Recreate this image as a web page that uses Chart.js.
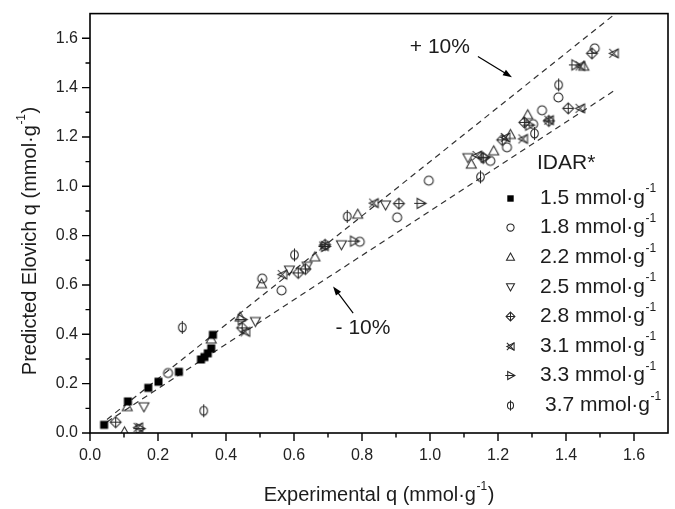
<!DOCTYPE html>
<html><head><meta charset="utf-8">
<script src="https://cdn.jsdelivr.net/npm/chart.js@4.4.1/dist/chart.umd.min.js"></script>
<style>html,body{margin:0;padding:0;background:#fff;}#wrap{width:675px;height:509px;}</style>
</head><body><div id="wrap"><canvas id="c" width="675" height="509"></canvas></div>
<script>
// ---------- data ----------
const seriesLabels = ['1.5 mmol·g⁻¹','1.8 mmol·g⁻¹','2.2 mmol·g⁻¹','2.5 mmol·g⁻¹','2.8 mmol·g⁻¹','3.1 mmol·g⁻¹','3.3 mmol·g⁻¹','3.7 mmol·g⁻¹'];
const legendTitle = 'IDAR*';
const xTickValues = [0.0,0.2,0.4,0.6,0.8,1.0,1.2,1.4,1.6];
const yTickValues = [0.0,0.2,0.4,0.6,0.8,1.0,1.2,1.4,1.6];
const minorTickValues = [0.1,0.3,0.5,0.7,0.9,1.1,1.3,1.5];

const exp15 = [0.04,0.11,0.17,0.20,0.26,0.325,0.335,0.345,0.355,0.36];
const pred15 = [0.035,0.13,0.185,0.21,0.25,0.30,0.31,0.325,0.345,0.40];
const exp18 = [0.228,0.505,0.562,0.792,0.902,0.995,1.176,1.225,1.302,1.328,1.376,1.483];
const pred18 = [0.245,0.628,0.58,0.777,0.876,1.025,1.105,1.16,1.254,1.31,1.362,1.561];
const exp22 = [0.10,0.108,0.355,0.44,0.503,0.66,0.786,1.12,1.186,1.235,1.286,1.451];
const pred22 = [0.005,0.107,0.381,0.47,0.605,0.714,0.887,1.09,1.144,1.21,1.29,1.487];
const exp25 = [0.157,0.485,0.585,0.637,0.738,0.868,1.11];
const pred25 = [0.11,0.456,0.664,0.68,0.767,0.928,1.12];
const exp28 = [0.074,0.446,0.611,0.632,0.69,0.907,1.155,1.211,1.276,1.348,1.405,1.475];
const pred28 = [0.046,0.428,0.651,0.667,0.765,0.932,1.117,1.19,1.261,1.267,1.318,1.541];
const exp31 = [0.14,0.455,0.564,0.686,0.833,1.137,1.22,1.272,1.348,1.44,1.44,1.539];
const pred31 = [0.025,0.412,0.644,0.76,0.934,1.127,1.2,1.194,1.27,1.318,1.49,1.541];
const exp33 = [0.145,0.445,0.69,0.775,0.971,1.16,1.29,1.426];
const pred33 = [0.02,0.462,0.758,0.78,0.933,1.12,1.25,1.494];
const exp37 = [0.27,0.333,0.6,0.755,1.147,1.306,1.377];
const pred37 = [0.43,0.092,0.724,0.88,1.04,1.216,1.413];

const guideX = [0.05,1.54];
const guidePlus = [0.055,1.694];   // +10 %
const guideMinus = [0.045,1.386];  // -10 %

// ---------- styling ----------
const FONT = '"Liberation Sans", Arial, Helvetica, sans-serif';
const INK = '#1c1c1c';
const MK = '#262626';
const markerKinds = ['square','circle','triUp','triDown','diamPlus','xTri','triRight','circV'];

function makeMarker(kind, k){
  const size = Math.ceil(16*k);
  const c = document.createElement('canvas'); c.width = size; c.height = size;
  const g = c.getContext('2d');
  g.translate(Math.floor(size/2)+0.5, Math.floor(size/2)+0.5);
  g.strokeStyle = MK; g.lineWidth = 1.05; g.fillStyle = '#000';
  const P = (pts, close)=>{ g.beginPath(); pts.forEach((p,i)=> i? g.lineTo(p[0]*k,p[1]*k) : g.moveTo(p[0]*k,p[1]*k)); if(close) g.closePath(); g.stroke(); };
  switch(kind){
    case 'square': g.fillRect(-4*k,-4*k,8*k,8*k); break;
    case 'circle': g.beginPath(); g.arc(0,0,4.5*k,0,Math.PI*2); g.stroke(); break;
    case 'triUp': P([[0,-5.5],[5,3.5],[-5,3.5]], true); break;
    case 'triDown': P([[0,5.5],[5,-3.5],[-5,-3.5]], true); break;
    case 'diamPlus': P([[0,-5.5],[5.5,0],[0,5.5],[-5.5,0]], true); P([[-5.5,0],[5.5,0]]); P([[0,-5.5],[0,5.5]]); break;
    case 'xTri': P([[-4.5,-4.5],[4.5,4.5]]); P([[-4.5,4.5],[4.5,-4.5]]); P([[4.5,-4.5],[4.5,4.5],[-4.5,0]], true); break;
    case 'triRight': P([[-3.5,-5],[5.5,0],[-3.5,5]], true); P([[-6.5,0],[5.5,0]]); break;
    case 'circV': g.beginPath(); g.ellipse(0,0,3.8*k,4.5*k,0,0,Math.PI*2); g.stroke(); P([[0,-6.5],[0,6.5]]); break;
  }
  return c;
}
const plotMarkers = markerKinds.map(m=>makeMarker(m,1));
const legendMarkers = markerKinds.map(m=>makeMarker(m,0.8));

const expArrays = [exp15,exp18,exp22,exp25,exp28,exp31,exp33,exp37];
const predArrays = [pred15,pred18,pred22,pred25,pred28,pred31,pred33,pred37];
const pts = (xs,ys)=> xs.map((x,i)=>({x:x,y:ys[i]}));

const datasets = seriesLabels.map((lab,i)=>({
  type:'scatter', label:lab, data:pts(expArrays[i],predArrays[i]),
  pointStyle: plotMarkers[i], pointRadius:5, pointHoverRadius:5, order:1
}));
datasets.push({type:'line', label:'+10%', data:pts(guideX,guidePlus), borderColor:'#333', borderWidth:1.2, borderDash:[6,4.5], pointRadius:0, fill:false, order:5});
datasets.push({type:'line', label:'-10%', data:pts(guideX,guideMinus), borderColor:'#333', borderWidth:1.2, borderDash:[6,4.5], pointRadius:0, fill:false, order:5});

// annotation anchors in data units
const annPlus = {text:'+ 10%', tx:1.029, ty:1.562, from:[1.141,1.526], to:[1.241,1.442]};
const annMinus = {text:'- 10%', tx:0.803, ty:0.426, from:[0.774,0.486], to:[0.715,0.594]};

function supText(ctx, x, y, base, sup, tail, size, align){
  ctx.font = size+'px '+FONT;
  const wb = ctx.measureText(base).width;
  const wt = ctx.measureText(tail).width;
  const ss = Math.round(size*0.58);
  ctx.font = ss+'px '+FONT;
  const ws = ctx.measureText(sup).width;
  const tot = wb+ws+wt+1;
  let x0 = align==='center' ? x - tot/2 : x;
  ctx.textAlign='left'; ctx.textBaseline='middle';
  ctx.font = size+'px '+FONT; ctx.fillText(base, x0, y);
  ctx.font = ss+'px '+FONT; ctx.fillText(sup, x0+wb+0.5, y - size*0.42);
  ctx.font = size+'px '+FONT; ctx.fillText(tail, x0+wb+ws+1, y);
}

function arrow(ctx, x1,y1,x2,y2){
  const a = Math.atan2(y2-y1,x2-x1), L=9, W=3.2;
  ctx.beginPath(); ctx.moveTo(x1,y1); ctx.lineTo(x2 - Math.cos(a)*L*0.8, y2 - Math.sin(a)*L*0.8); ctx.stroke();
  ctx.beginPath(); ctx.moveTo(x2,y2);
  ctx.lineTo(x2 - L*Math.cos(a) + W*Math.sin(a), y2 - L*Math.sin(a) - W*Math.cos(a));
  ctx.lineTo(x2 - L*Math.cos(a) - W*Math.sin(a), y2 - L*Math.sin(a) + W*Math.cos(a));
  ctx.closePath(); ctx.fill();
}

const decor = {
  id:'decor',
  afterDraw(chart){
    const ctx = chart.ctx, a = chart.chartArea, xs = chart.scales.x, ys = chart.scales.y;
    ctx.save();
    ctx.strokeStyle = '#000'; ctx.fillStyle = INK;
    // frame
    ctx.lineWidth = 1.6;
    ctx.strokeRect(a.left, a.top, a.right-a.left, a.bottom-a.top);
    // ticks
    ctx.lineWidth = 1.4;
    ctx.beginPath();
    xTickValues.forEach(v=>{ const p = xs.getPixelForValue(v); ctx.moveTo(p,a.bottom); ctx.lineTo(p,a.bottom+8); });
    minorTickValues.forEach(v=>{ const p = xs.getPixelForValue(v); ctx.moveTo(p,a.bottom); ctx.lineTo(p,a.bottom+4.5); });
    yTickValues.forEach(v=>{ const p = ys.getPixelForValue(v); ctx.moveTo(a.left,p); ctx.lineTo(a.left-8,p); });
    minorTickValues.forEach(v=>{ const p = ys.getPixelForValue(v); ctx.moveTo(a.left,p); ctx.lineTo(a.left-4.5,p); });
    ctx.stroke();
    // axis titles
    supText(ctx, (a.left+a.right)/2, 495, 'Experimental q (mmol·g', '-1', ')', 20, 'center');
    ctx.save(); ctx.translate(30, 241); ctx.rotate(-Math.PI/2);
    supText(ctx, 0, 0, 'Predicted Elovich q (mmol·g', '-1', ')', 20, 'center');
    ctx.restore();
    // annotations
    ctx.font = '21px '+FONT; ctx.textAlign='center'; ctx.textBaseline='middle';
    [annPlus, annMinus].forEach(an=>{
      ctx.fillText(an.text, xs.getPixelForValue(an.tx), ys.getPixelForValue(an.ty));
      ctx.lineWidth = 1.2; ctx.fillStyle = '#000';
      arrow(ctx, xs.getPixelForValue(an.from[0]), ys.getPixelForValue(an.from[1]), xs.getPixelForValue(an.to[0]), ys.getPixelForValue(an.to[1]));
      ctx.fillStyle = INK;
    });
    // legend
    ctx.font = '21px '+FONT; ctx.textAlign='left'; ctx.textBaseline='middle';
    ctx.fillText(legendTitle, 537, 163);
    seriesLabels.forEach((lab,i)=>{
      const y = 198 + i*29.6;
      const m = legendMarkers[i];
      ctx.drawImage(m, Math.round(510 - m.width/2), Math.round(y - m.height/2));
      const parts = lab.split('⁻¹');
      supText(ctx, i===7 ? 545 : 540, y, parts[0], '-1', parts[1]||'', 21, 'left');
    });
    ctx.restore();
  }
};

new Chart(document.getElementById('c'), {
  data:{datasets:datasets},
  options:{
    responsive:false, animation:false, devicePixelRatio:1,
    layout:{padding:{top:9,right:7,left:0,bottom:0}},
    plugins:{legend:{display:false}, tooltip:{enabled:false}},
    scales:{
      x:{type:'linear', position:'bottom', min:0, max:1.7,
        afterBuildTicks(s){ s.ticks = xTickValues.map(v=>({value:v})); },
        afterFit(s){ s.height = 76; },
        grid:{display:true, drawOnChartArea:false, drawTicks:true, tickLength:8, tickColor:'rgba(0,0,0,0)', color:'rgba(0,0,0,0)'},
        border:{display:false},
        ticks:{color:'#222', font:{family:FONT, size:16}, padding:5, maxRotation:0, callback:v=>Number(v).toFixed(1)}
      },
      y:{type:'linear', position:'left', min:0, max:1.7,
        afterBuildTicks(s){ s.ticks = yTickValues.map(v=>({value:v})); },
        afterFit(s){ s.width = 90; },
        grid:{display:true, drawOnChartArea:false, drawTicks:true, tickLength:8, tickColor:'rgba(0,0,0,0)', color:'rgba(0,0,0,0)'},
        border:{display:false},
        ticks:{color:'#222', font:{family:FONT, size:16}, padding:4, callback:v=>Number(v).toFixed(1)}
      }
    }
  },
  plugins:[decor]
});
</script></body></html>
